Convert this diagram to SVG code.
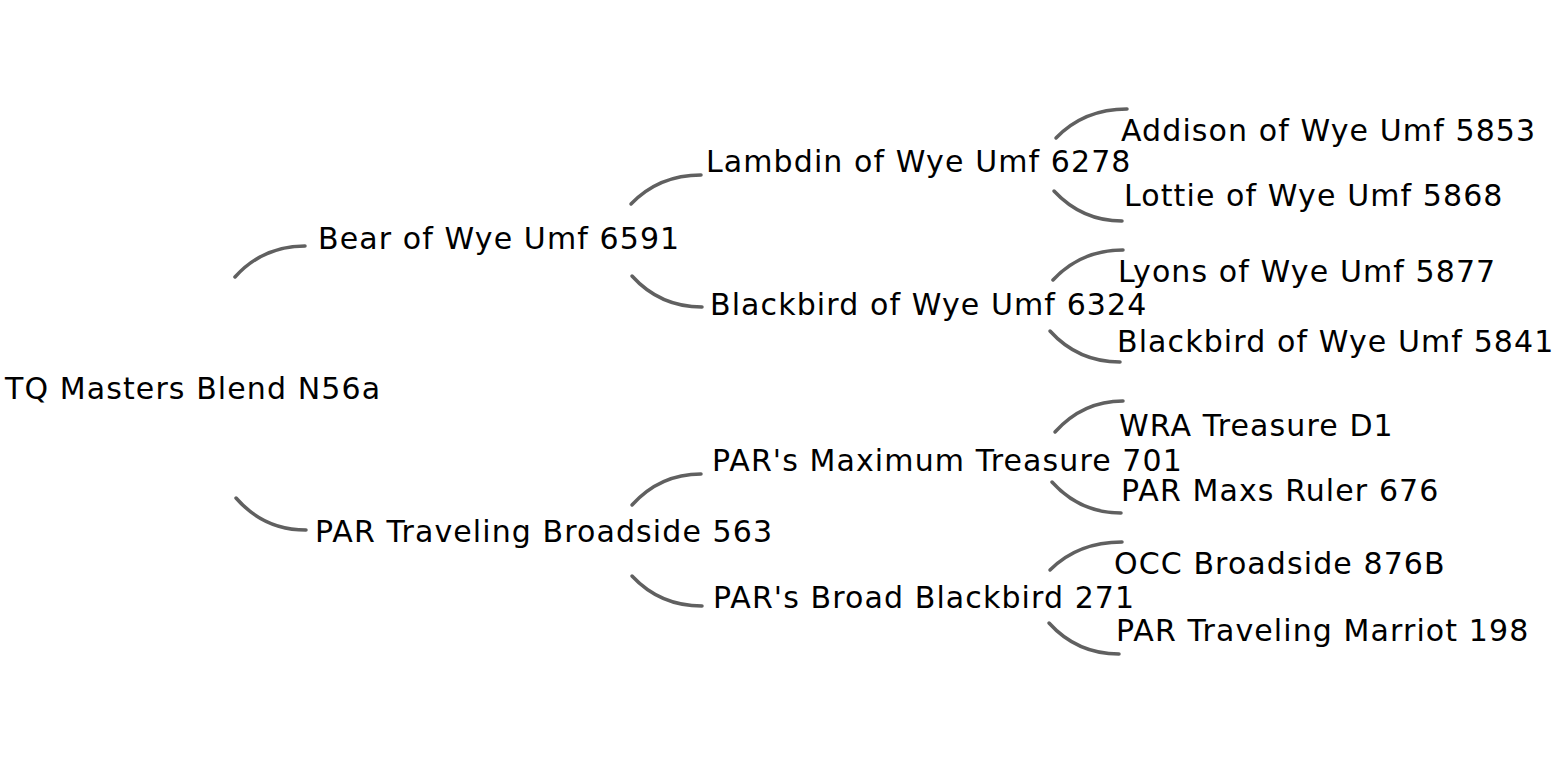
<svg xmlns="http://www.w3.org/2000/svg" width="1556" height="781" viewBox="0 0 1556 781">
<style>
text { font-family: "DejaVu Sans", Verdana, sans-serif; font-size: 30px; letter-spacing: 1.1px; fill: #000; }
.c { fill: none; stroke: #606060; stroke-width: 3.5; stroke-linecap: round; }
</style>
<rect width="1556" height="781" fill="#fff"/>
<g id="connectors">
<path class="c" d="M235,277 Q263,246 305,246"/>
<path class="c" d="M236,498 Q264,530 306,530"/>
<path class="c" d="M631,204 Q659,175 701,175"/>
<path class="c" d="M632,276 Q660,307 702,307"/>
<path class="c" d="M632,505 Q660,474 701,474"/>
<path class="c" d="M632,576 Q660,606 702,606"/>
<path class="c" d="M1056,138 Q1084,109 1127,109"/>
<path class="c" d="M1054,191 Q1082,221 1122,221"/>
<path class="c" d="M1053,280 Q1081,250 1123,250"/>
<path class="c" d="M1050,331 Q1078,362 1120,362"/>
<path class="c" d="M1055,432 Q1083,401 1123,401"/>
<path class="c" d="M1052,482 Q1080,513 1121,513"/>
<path class="c" d="M1050,570 Q1078,542 1122,542"/>
<path class="c" d="M1049,623 Q1077,654 1119,654"/>
</g>
<g id="n0"><text x="5" y="399">TQ Masters Blend N56a</text></g>
<g id="n1"><text x="318" y="249">Bear of Wye Umf 6591</text></g>
<g id="n2"><text x="315" y="542">PAR Traveling Broadside 563</text></g>
<g id="n3"><text x="706" y="172">Lambdin of Wye Umf 6278</text></g>
<g id="n4"><text x="710" y="315">Blackbird of Wye Umf 6324</text></g>
<g id="n5"><text x="712" y="471">PAR's Maximum Treasure 701</text></g>
<g id="n6"><text x="713" y="608">PAR's Broad Blackbird 271</text></g>
<g id="n7"><text x="1121" y="141">Addison of Wye Umf 5853</text></g>
<g id="n8"><text x="1124" y="206">Lottie of Wye Umf 5868</text></g>
<g id="n9"><text x="1118" y="282">Lyons of Wye Umf 5877</text></g>
<g id="n10"><text x="1117" y="352">Blackbird of Wye Umf 5841</text></g>
<g id="n11"><text x="1119" y="436">WRA Treasure D1</text></g>
<g id="n12"><text x="1121" y="501">PAR Maxs Ruler 676</text></g>
<g id="n13"><text x="1114" y="574">OCC Broadside 876B</text></g>
<g id="n14"><text x="1116" y="641">PAR Traveling Marriot 198</text></g>
</svg>
